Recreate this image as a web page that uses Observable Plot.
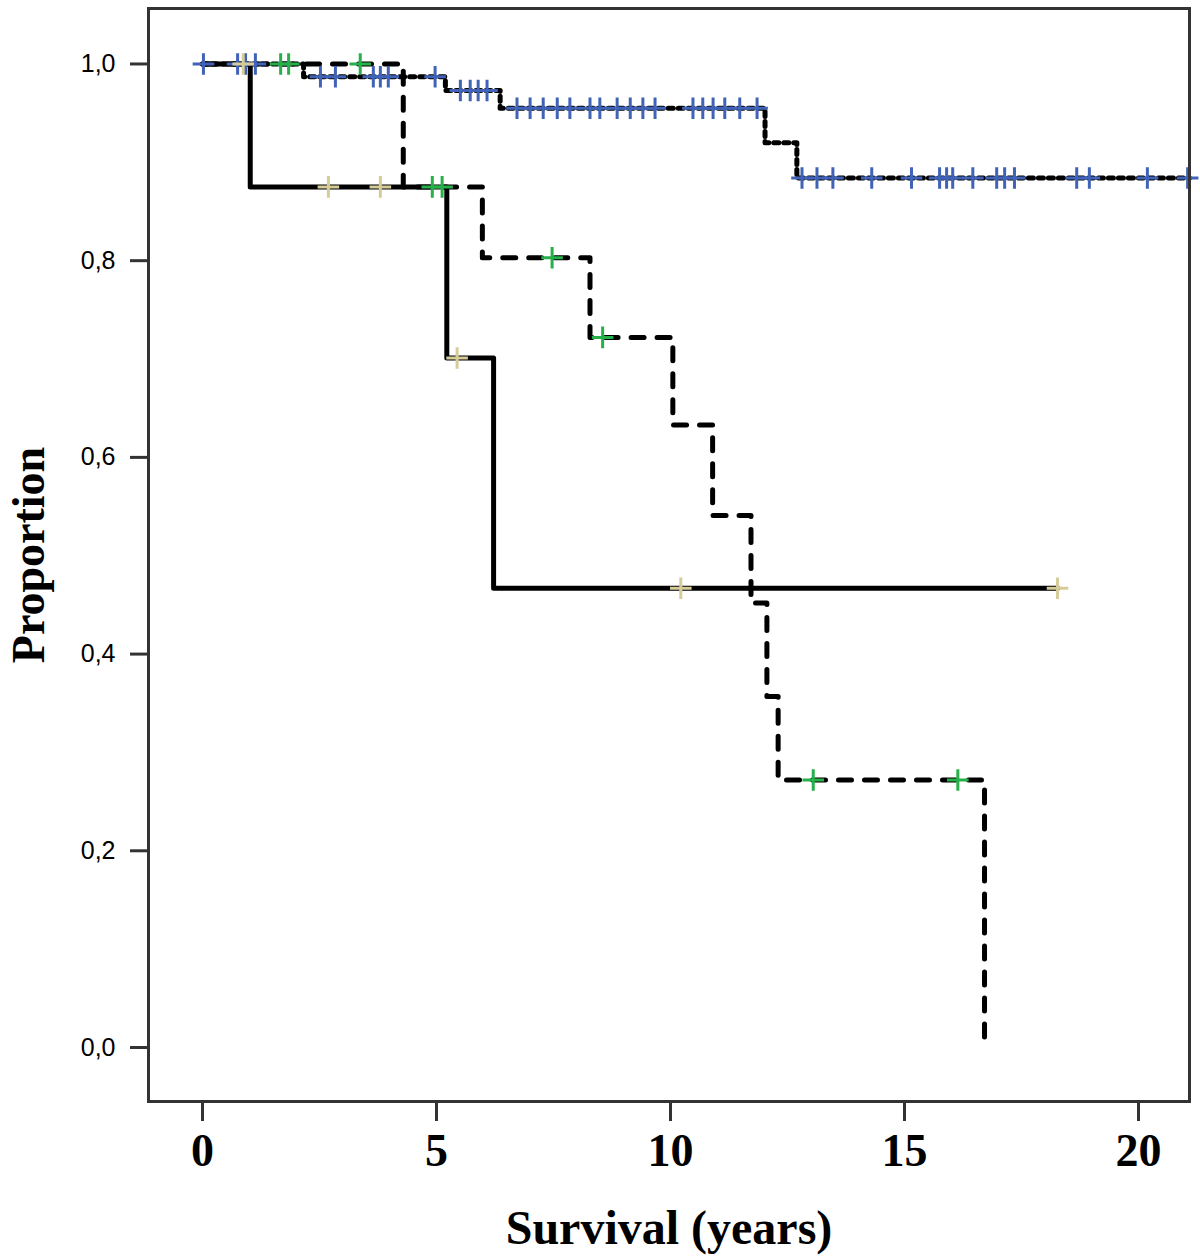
<!DOCTYPE html>
<html>
<head>
<meta charset="utf-8">
<script src="https://cdn.jsdelivr.net/npm/d3@7"></script>
<script src="https://cdn.jsdelivr.net/npm/@observablehq/plot@0.6"></script>
<style>
  html, body { margin: 0; padding: 0; background: #fff; }
  #chart svg { display: block; background: #fff; }
</style>
</head>
<body>
<div id="chart"></div>
<script>
// ---- Data ----
// Solid curve (tan censor marks)
const solidTimes = [0, 1.02, 5.22, 6.22, 18.27];
const solidSurv  = [1.0, 0.875, 0.701, 0.467, 0.467];
const solidCensor = [0.87, 2.69, 3.80, 5.44, 10.22, 18.27];

// Dashed curve (green censor marks)
const dashedTimes = [0, 4.29, 5.98, 8.28, 10.05, 10.90, 11.72, 12.06, 12.30, 16.71];
const dashedSurv  = [1.0, 0.875, 0.803, 0.722, 0.633, 0.541, 0.452, 0.357, 0.272, 0.0];
const dashedCensor = [1.67, 1.84, 3.37, 4.91, 5.12, 7.47, 8.55, 13.05, 16.14];

// Dotted curve (blue censor marks)
const dottedTimes = [0, 2.16, 5.19, 6.36, 12.02, 12.70, 21.09];
const dottedSurv  = [1.0, 0.987, 0.973, 0.955, 0.920, 0.884, 0.884];
const dottedCensor = [0.02, 0.75, 0.92, 1.13, 2.52, 2.84, 3.65, 3.80, 3.97, 4.97,
  5.51, 5.72, 5.89, 6.08, 6.72, 7.00, 7.28, 7.58, 7.85, 8.28, 8.49, 8.86, 9.14, 9.41, 9.67,
  10.48, 10.69, 10.91, 11.16, 11.48, 11.85, 12.81, 13.13, 13.47, 14.30, 15.15, 15.75, 15.90,
  16.03, 16.46, 16.97, 17.14, 17.35, 18.68, 18.95, 20.19, 21.05];

const xTicks = [0, 5, 10, 15, 20];
const yTicks = [0, 0.2, 0.4, 0.6, 0.8, 1.0];

const colors = { solid: "#d6cc98", dashed: "#25b04a", dotted: "#4063b8" };

// ---- Build tables ----
const curve = (times, surv) => times.map((t, i) => ({ t, s: surv[i] }));
const levelAt = (times, surv, t) => {
  let v = surv[0];
  for (let i = 0; i < times.length; i++) if (times[i] <= t) v = surv[i];
  return v;
};
const censor = (cens, times, surv) => cens.map(t => ({ t, s: levelAt(times, surv, t) }));

const solidLine = curve(solidTimes, solidSurv);
const dashedLine = curve(dashedTimes, dashedSurv);
const dottedLine = curve(dottedTimes, dottedSurv);

const solidMarks = censor(solidCensor, solidTimes, solidSurv);
const dashedMarks = censor(dashedCensor, dashedTimes, dashedSurv);
const dottedMarks = censor(dottedCensor, dottedTimes, dottedSurv);

const chart = Plot.plot({
  width: 1200,
  height: 1257,
  marginLeft: 148,
  marginRight: 11,
  marginTop: 8,
  marginBottom: 156,
  style: { background: "#fff", color: "#000" },
  x: { domain: [-1.154, 21.09] },
  y: { domain: [-0.0549, 1.0564] },
  marks: [
    Plot.axisX({
      ticks: xTicks, tickSize: 20, tickPadding: 12, strokeWidth: 3, stroke: "#333",
      fontSize: 46, fontWeight: "bold", fontFamily: "Liberation Serif", label: null
    }),
    Plot.axisY({
      ticks: yTicks, tickSize: 18, tickPadding: 15, strokeWidth: 3, stroke: "#333",
      tickFormat: d => d.toFixed(1).replace(".", ","),
      fontSize: 25, fontFamily: "Liberation Sans", label: null
    }),
    Plot.text(["Survival (years)"], {
      text: d => d, frameAnchor: "bottom", dy: 142, lineAnchor: "bottom",
      fontSize: 48, fontWeight: "bold", fontFamily: "Liberation Serif", fill: "#000"
    }),
    Plot.text(["Proportion"], {
      text: d => d, frameAnchor: "left", dx: -119, rotate: -90,
      textAnchor: "middle", lineAnchor: "middle",
      fontSize: 46, fontWeight: "bold", fontFamily: "Liberation Serif", fill: "#000"
    }),
    Plot.line(dashedLine, { x: "t", y: "s", curve: "step-after", stroke: "#000", strokeWidth: 5, strokeDasharray: "13,13" }),
    Plot.line(dottedLine, { x: "t", y: "s", curve: "step-after", stroke: "#000", strokeWidth: 5, strokeDasharray: "5,5" }),
    Plot.line(solidLine, { x: "t", y: "s", curve: "step-after", stroke: "#000", strokeWidth: 5 }),
    Plot.dot(dottedMarks, { x: "t", y: "s", symbol: "plus", r: 7, stroke: colors.dotted, strokeWidth: 3 }),
    Plot.dot(dashedMarks, { x: "t", y: "s", symbol: "plus", r: 7, stroke: colors.dashed, strokeWidth: 3 }),
    Plot.dot(solidMarks, { x: "t", y: "s", symbol: "plus", r: 7, stroke: colors.solid, strokeWidth: 3 }),
    Plot.frame({ stroke: "#333", strokeWidth: 3 })
  ]
});
document.getElementById("chart").appendChild(chart);
</script>
</body>
</html>
